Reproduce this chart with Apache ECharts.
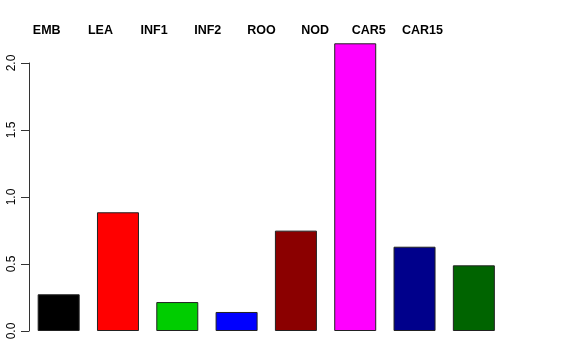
<!DOCTYPE html>
<html>
<head>
<meta charset="utf-8">
<script src="https://cdn.jsdelivr.net/npm/echarts@6/dist/echarts.min.js"></script>
<style>html,body{margin:0;padding:0;background:#fff}#c{width:576px;height:360px}</style>
</head>
<body>
<div id="c"></div>
<script>
var categories = ["EMB", "LEA", "INF1", "INF2", "ROO", "NOD", "CAR5", "CAR15"];
var values = [0.274, 0.886, 0.216, 0.142, 0.749, 2.147, 0.629, 0.490];
var barColors = ["#000000", "#FF0000", "#00CD00", "#0000FF", "#8B0000", "#FF00FF", "#00008B", "#006400"];
var yTicks = [0, 0.5, 1.0, 1.5, 2.0];

var chart = echarts.init(document.getElementById('c'), null, {renderer: 'canvas'});
var font = "'Liberation Sans', Arial, sans-serif";
chart.setOption({
  animation: false,
  backgroundColor: '#ffffff',
  grid: [
    {left: 29, right: 72.5, top: 63, bottom: 29},
    {left: 19.9, width: 429.4, top: 40.5, height: 1}
  ],
  xAxis: [
    {type: 'category', gridIndex: 0, data: categories, axisLine: {show: false}, axisTick: {show: false}, axisLabel: {show: false}},
    {type: 'category', gridIndex: 1, position: 'top', data: categories,
     axisLine: {show: false}, axisTick: {show: false},
     axisLabel: {show: true, margin: 3, color: '#000', fontFamily: font, fontWeight: 'bold', fontSize: 12.5}}
  ],
  yAxis: [
    {type: 'value', gridIndex: 0, min: yTicks[0], max: yTicks[yTicks.length - 1], interval: 0.5,
     axisLine: {show: true, lineStyle: {color: '#333', width: 1}},
     axisTick: {show: true, length: 8, lineStyle: {color: '#333'}},
     splitLine: {show: false},
     axisLabel: {rotate: 90, margin: 11, color: '#000', fontFamily: font, fontSize: 12,
       formatter: function (v) { return v.toFixed(1); }}},
    {type: 'value', gridIndex: 1, show: false}
  ],
  series: [{
    type: 'bar',
    xAxisIndex: 0, yAxisIndex: 0,
    clip: false,
    barWidth: 42,
    data: values.map(function (v, i) {
      return {value: v, itemStyle: {color: barColors[i]}};
    }),
    itemStyle: {borderColor: '#222', borderWidth: 1}
  }]
});
</script>
</body>
</html>
